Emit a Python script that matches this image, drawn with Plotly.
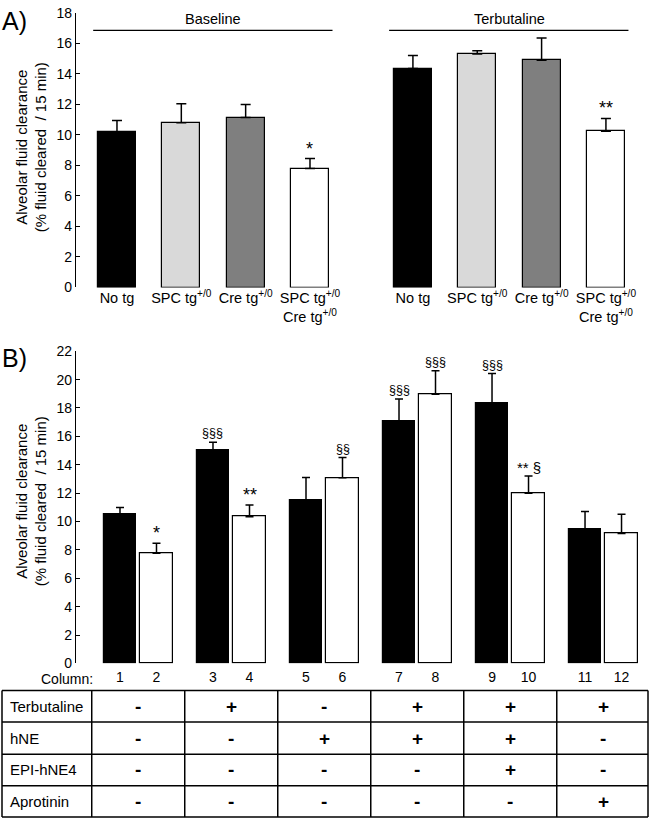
import plotly.graph_objects as go

# ---------------- data ----------------
a_labels = ["No tg", "SPC tg<sup>+/0</sup>", "Cre tg<sup>+/0</sup>",
            "SPC tg<sup>+/0</sup><br>Cre tg<sup>+/0</sup>"] * 2
a_groups = ["Baseline", "Terbutaline"]
a_values = [10.2, 10.8, 11.15, 7.8, 14.35, 15.3, 14.9, 10.25]
a_errors = [0.75, 1.25, 0.85, 0.65, 0.85, 0.22, 1.45, 0.83]
a_marks = ["", "", "", "*", "", "", "", "**"]
a_colors = ["#000000", "#d9d9d9", "#7f7f7f", "#ffffff"] * 2

b_columns = [str(i) for i in range(1, 13)]
b_values = [10.48, 7.76, 15.04, 10.34, 11.51, 13.08, 17.04, 18.96, 18.31, 12.0, 9.44, 9.16]
b_errors = [0.51, 0.71, 0.55, 0.83, 1.59, 1.43, 1.59, 1.66, 2.12, 1.2, 1.27, 1.36]
b_marks = ["", "*", "§§§", "**", "", "§§", "§§§", "§§§", "§§§", "** §", "", ""]
b_colors = ["#000000", "#ffffff"] * 6

table_rows = ["Terbutaline", "hNE", "EPI-hNE4", "Aprotinin"]
table_terbutaline = ["-", "+", "-", "+", "+", "+"]
table_hne = ["-", "-", "+", "+", "+", "-"]
table_epi = ["-", "-", "-", "-", "+", "-"]
table_aprotinin = ["-", "-", "-", "-", "-", "+"]
table_values = [table_terbutaline, table_hne, table_epi, table_aprotinin]

ytitle = "Alveolar fluid clearance<br>(% fluid cleared&nbsp; / 15 min)"

# ---------------- layout helpers ----------------
W, H = 650, 828
FONT = "Arial, Liberation Sans, sans-serif"


def py(px):
    return 1 - px / H


def pxx(px):
    return px / W


a_x = [i + 0.6 * (i // 4) for i in range(8)]
b_x = [(i % 2) + 2.548 * (i // 2) for i in range(12)]
b_group_x = [2.548 * g + 0.5 for g in range(6)]

fig = go.Figure()

fig.add_trace(go.Bar(
    x=a_x, y=a_values, width=0.59,
    marker=dict(color=a_colors, line=dict(color="black", width=1.2)),
    error_y=dict(type="data", array=a_errors, arrayminus=[0] * 8, symmetric=False,
                 color="black", thickness=1.5, width=5),
    xaxis="x", yaxis="y", showlegend=False,
))
fig.add_trace(go.Bar(
    x=b_x, y=b_values, width=0.88,
    marker=dict(color=b_colors, line=dict(color="black", width=1.2)),
    error_y=dict(type="data", array=b_errors, arrayminus=[0] * 12, symmetric=False,
                 color="black", thickness=1.5, width=4),
    xaxis="x2", yaxis="y2", showlegend=False,
))

ann = []
shapes = []

# significance marks
for xs, vals, errs, marks, xr, yr in [(a_x, a_values, a_errors, a_marks, "x", "y"),
                                      (b_x, b_values, b_errors, b_marks, "x2", "y2")]:
    for x, v, e, m in zip(xs, vals, errs, marks):
        if not m:
            continue
        if "*" in m and "§" in m:
            size = 15
        elif "*" in m:
            size = 18
        else:
            size = 12.5
        ann.append(dict(x=x, y=v + e, xref=xr, yref=yr, text=m, showarrow=False,
                        yanchor="bottom", yshift=-2 if "*" in m else 0,
                        font=dict(size=size, family=FONT, color="black")))

# group bars over panel A
for g, name in enumerate(a_groups):
    xs = a_x[4 * g:4 * g + 4]
    shapes.append(dict(type="line", xref="x", yref="y", x0=xs[0] - 0.37, x1=xs[-1] + 0.35,
                       y0=16.85, y1=16.85, line=dict(color="black", width=1.3)))
    ann.append(dict(x=(xs[0] + xs[-1]) / 2, y=16.85, xref="x", yref="y", text=name,
                    showarrow=False, yanchor="bottom", yshift=1,
                    font=dict(size=14.5, family=FONT, color="black")))

# panel letters and y titles
ann.append(dict(x=0, y=py(13), xref="paper", yref="paper", text="A)", showarrow=False,
                xanchor="left", yanchor="middle", font=dict(size=25, family=FONT, color="black")))
ann.append(dict(x=0, y=py(357), xref="paper", yref="paper", text="B)", showarrow=False,
                xanchor="left", yanchor="middle", font=dict(size=25, family=FONT, color="black")))
for yc in (142, 503):
    ann.append(dict(x=pxx(31), y=py(yc), xref="paper", yref="paper", text=ytitle,
                    showarrow=False, textangle=-90, xanchor="center", yanchor="middle",
                    font=dict(size=15, family=FONT, color="black")))

ann.append(dict(x=pxx(95), y=py(684), xref="paper", yref="paper", text="Column:",
                showarrow=False, xanchor="right", yanchor="middle",
                font=dict(size=14, family=FONT, color="black")))

# table
row_lines = [696, 728, 761, 793, 825]
for yl in row_lines:
    shapes.append(dict(type="line", xref="paper", yref="paper", x0=pxx(2), x1=pxx(648),
                       y0=py(yl), y1=py(yl), line=dict(color="black", width=1.5)))
for xl in [pxx(2), pxx(648)]:
    shapes.append(dict(type="line", xref="paper", yref="paper", x0=xl, x1=xl,
                       y0=py(row_lines[0]), y1=py(row_lines[-1]), line=dict(color="black", width=1.5)))
for g in range(6):
    xb = b_group_x[g] - 1.274
    shapes.append(dict(type="line", xref="x2", yref="paper", x0=xb, x1=xb,
                       y0=py(row_lines[0]), y1=py(row_lines[-1]), line=dict(color="black", width=1.5)))
for r, (rname, vals) in enumerate(zip(table_rows, table_values)):
    yc = py((row_lines[r] + row_lines[r + 1]) / 2)
    ann.append(dict(x=pxx(8), y=yc, xref="paper", yref="paper", text=rname, showarrow=False,
                    xanchor="left", yanchor="middle", font=dict(size=15, family=FONT, color="black")))
    for g, v in enumerate(vals):
        ann.append(dict(x=b_group_x[g], y=yc, xref="x2", yref="paper", text="<b>%s</b>" % v,
                        showarrow=False, xanchor="center", yanchor="middle",
                        font=dict(size=19, family=FONT, color="black")))

yaxis_common = dict(showline=True, linecolor="black", linewidth=1.2, ticks="inside",
                    ticklen=4, tickcolor="black", tickwidth=1.2, showgrid=False,
                    zeroline=False, dtick=2, tickfont=dict(size=14, family=FONT, color="black"))

fig.update_layout(
    width=W, height=H, margin=dict(l=0, r=0, t=0, b=0),
    paper_bgcolor="white", plot_bgcolor="white",
    font=dict(family=FONT, color="black"),
    xaxis=dict(domain=[pxx(76), 1], range=[-0.637, 8.285], anchor="y",
               tickvals=a_x, ticktext=a_labels, ticks="", showline=False, showgrid=False,
               zeroline=False,
               tickfont=dict(size=14.5, family=FONT, color="black")),
    yaxis=dict(domain=[py(285), py(5)], range=[0, 18], anchor="x", **yaxis_common),
    xaxis2=dict(domain=[pxx(76), 1], range=[-1.205, 14.52], anchor="y2",
                tickvals=b_x, ticktext=b_columns, ticks="", showline=False, showgrid=False,
                zeroline=False, ticklabelstandoff=4,
                tickfont=dict(size=14, family=FONT, color="black")),
    yaxis2=dict(domain=[py(668.3), py(350)], range=[0, 22], anchor="x2", **yaxis_common),
    annotations=ann, shapes=shapes, bargap=0,
)

fig.write_html("out.html", config={"displayModeBar": False},
               post_script="document.body.style.margin='0px';document.body.style.padding='0px';")
